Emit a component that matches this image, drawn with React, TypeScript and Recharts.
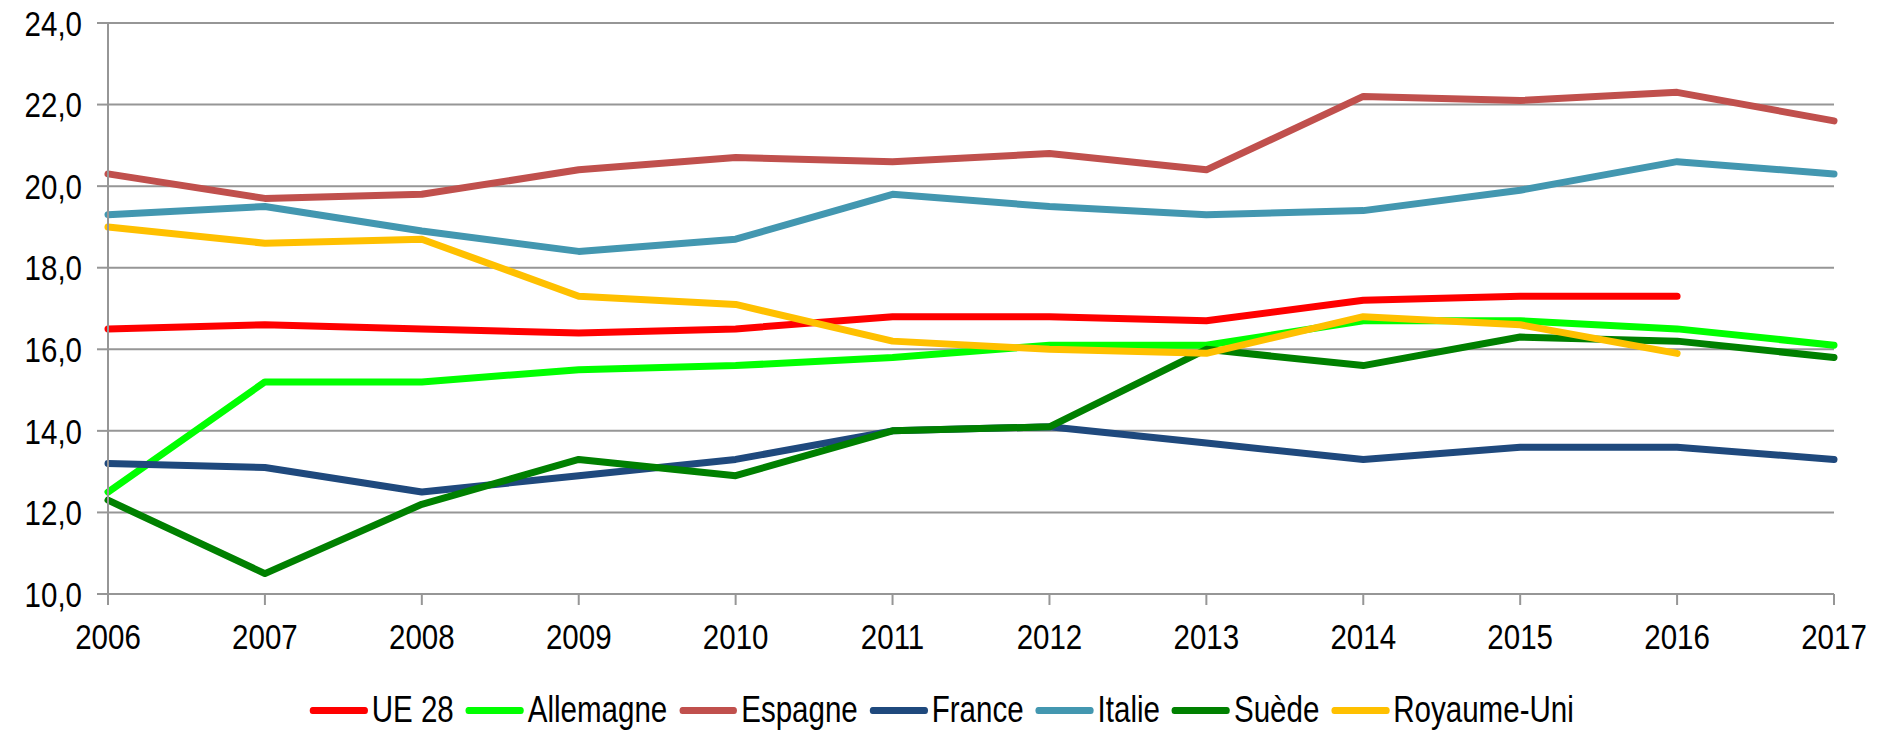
import React from 'react';
import { LineChart, Line, XAxis, YAxis, CartesianGrid, Legend } from 'recharts';

const years = ['2006', '2007', '2008', '2009', '2010', '2011', '2012', '2013', '2014', '2015', '2016', '2017'];

const ue28 = [16.5, 16.6, 16.5, 16.4, 16.5, 16.8, 16.8, 16.7, 17.2, 17.3, 17.3, null];
const allemagne = [12.5, 15.2, 15.2, 15.5, 15.6, 15.8, 16.1, 16.1, 16.7, 16.7, 16.5, 16.1];
const espagne = [20.3, 19.7, 19.8, 20.4, 20.7, 20.6, 20.8, 20.4, 22.2, 22.1, 22.3, 21.6];
const france = [13.2, 13.1, 12.5, 12.9, 13.3, 14.0, 14.1, 13.7, 13.3, 13.6, 13.6, 13.3];
const italie = [19.3, 19.5, 18.9, 18.4, 18.7, 19.8, 19.5, 19.3, 19.4, 19.9, 20.6, 20.3];
const suede = [12.3, 10.5, 12.2, 13.3, 12.9, 14.0, 14.1, 16.0, 15.6, 16.3, 16.2, 15.8];
const royaumeUni = [19.0, 18.6, 18.7, 17.3, 17.1, 16.2, 16.0, 15.9, 16.8, 16.6, 15.9, null];

const yTicks = [10, 12, 14, 16, 18, 20, 22, 24];

const series = [
  { key: 'UE 28', values: ue28, color: '#ff0000' },
  { key: 'Allemagne', values: allemagne, color: '#00ff00' },
  { key: 'Espagne', values: espagne, color: '#c0504d' },
  { key: 'France', values: france, color: '#1f497d' },
  { key: 'Italie', values: italie, color: '#4397b0' },
  { key: 'Suède', values: suede, color: '#008000' },
  { key: 'Royaume-Uni', values: royaumeUni, color: '#ffc000' },
];

const data = years.map((year, i) => {
  const row: Record<string, any> = { year };
  series.forEach((s) => {
    row[s.key] = s.values[i];
  });
  return row;
});

// no narrow font installed: squeeze Liberation Sans horizontally instead
const font = "'Liberation Sans', Arial, sans-serif";
const narrow = 0.82;
const gridColor = '#969696';

const XTick = ({ x, y, payload }: any) => (
  <text
    transform={`translate(${x},${y}) scale(${narrow},1)`}
    textAnchor="middle"
    dy="0.71em"
    fontSize={36}
    fontFamily={font}
    fill="#000"
  >
    {payload.value}
  </text>
);

const YTick = ({ x, y, payload }: any) => (
  <text
    transform={`translate(${x},${y}) scale(${narrow},1)`}
    textAnchor="end"
    dy="0.355em"
    fontSize={36}
    fontFamily={font}
    fill="#000"
  >
    {Number(payload.value).toFixed(1).replace('.', ',')}
  </text>
);

const LegendContent = () => (
  <div style={{ height: 40, display: 'flex', justifyContent: 'center', alignItems: 'center' }}>
    <div
      style={{
        display: 'flex',
        alignItems: 'center',
        transform: `translateX(25px) scaleX(${narrow})`,
        fontFamily: font,
        fontSize: 36,
        color: '#000',
        whiteSpace: 'nowrap',
      }}
    >
      {series.map((s, i) => (
        <div
          key={s.key}
          style={{ display: 'flex', alignItems: 'center', marginRight: i < series.length - 1 ? 12 / narrow : 0 }}
        >
          <span
            style={{
              display: 'inline-block',
              width: 58 / narrow,
              height: 7,
              borderRadius: 4,
              background: s.color,
              marginRight: 4 / narrow,
            }}
          />
          <span>{s.key}</span>
        </div>
      ))}
    </div>
  </div>
);

export default function App() {
  return (
    <div style={{ width: 1881, height: 730, background: '#fff' }}>
      <style>{'body{margin:0;}'}</style>
      <LineChart width={1881} height={730} data={data} margin={{ top: 23, right: 47, bottom: 0, left: 0 }}>
        <CartesianGrid horizontal vertical={false} stroke={gridColor} strokeWidth={2} />
        <XAxis
          dataKey="year"
          scale="point"
          height={96}
          stroke={gridColor}
          strokeWidth={2}
          tickSize={11}
          tickMargin={18}
          tick={<XTick />}
          interval={0}
        />
        <YAxis
          domain={[10, 24]}
          ticks={yTicks}
          width={108}
          stroke={gridColor}
          strokeWidth={2}
          tickSize={11}
          tickMargin={15}
          tick={<YTick />}
          interval={0}
        />
        <Legend verticalAlign="bottom" content={<LegendContent />} />
        {series.map((s) => (
          <Line
            key={s.key}
            dataKey={s.key}
            stroke={s.color}
            strokeWidth={7}
            strokeLinecap="round"
            strokeLinejoin="round"
            dot={false}
            activeDot={false}
            isAnimationActive={false}
          />
        ))}
      </LineChart>
    </div>
  );
}
